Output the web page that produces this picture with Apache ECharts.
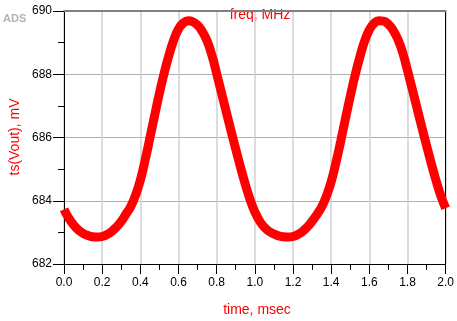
<!DOCTYPE html>
<html>
<head>
<meta charset="utf-8">
<script src="https://cdn.jsdelivr.net/npm/echarts@6/dist/echarts.min.js"></script>
<style>
html,body{margin:0;padding:0;background:#fff;}
#c{width:457px;height:321px;}
</style>
</head>
<body>
<div id="c"></div>
<script>
// time, msec
var timeMs = [
  0.000,0.025,0.050,0.075,0.100,0.125,0.150,0.175,0.200,0.225,
  0.250,0.275,0.300,0.325,0.350,0.375,0.400,0.425,0.450,0.475,
  0.500,0.525,0.550,0.575,0.600,0.625,0.650,0.675,0.700,0.725,
  0.750,0.775,0.800,0.825,0.850,0.875,0.900,0.925,0.950,0.975,
  1.000,1.025,1.050,1.075,1.100,1.125,1.150,1.175,1.200,1.225,
  1.250,1.275,1.300,1.325,1.350,1.375,1.400,1.425,1.450,1.475,
  1.500,1.525,1.550,1.575,1.600,1.625,1.650,1.675,1.700,1.725,
  1.750,1.775,1.800,1.825,1.850,1.875,1.900,1.925,1.950,1.975,2.000];
// ts(Vout), mV (center of the band)
var vout = [
  683.73,683.45,683.24,683.08,682.97,682.90,682.86,682.85,682.87,682.93,
  683.03,683.17,683.35,683.58,683.82,684.18,684.65,685.28,685.98,686.70,
  687.40,688.04,688.60,689.08,689.43,689.62,689.69,689.66,689.55,689.35,
  689.05,688.60,688.02,687.42,686.82,686.22,685.63,685.06,684.52,684.04,
  683.65,683.36,683.16,683.03,682.95,682.89,682.86,682.85,682.87,682.93,
  683.03,683.17,683.35,683.56,683.80,684.15,684.60,685.20,685.88,686.60,
  687.30,687.96,688.54,689.04,689.40,689.61,689.69,689.68,689.58,689.39,
  689.10,688.68,688.12,687.53,686.93,686.33,685.74,685.17,684.63,684.15,683.76];
var xTickLabels = ['0.0','0.2','0.4','0.6','0.8','1.0','1.2','1.4','1.6','1.8','2.0'];
var yTickLabels = ['682','684','686','688','690'];
var xName = 'time, msec';
var yName = 'ts(Vout), mV';
var topLabel = 'freq, MHz';
var logo = 'ADS';

var data = timeMs.map(function(t,i){return [t, vout[i]];});
var FONT = '"Liberation Sans", Arial, sans-serif';

var chart = echarts.init(document.getElementById('c'), null, {renderer:'canvas'});
chart.setOption({
  animation:false,
  backgroundColor:'#fff',
  grid:{left:64, right:9, top:11, bottom:57, containLabel:false},
  xAxis:[{
    type:'value', min:0, max:2, interval:0.2,
    axisLine:{show:true, onZero:false, lineStyle:{color:'#000', width:1}},
    axisTick:{show:true, inside:false, length:10, lineStyle:{color:'#000'}},
    minorTick:{show:true, splitNumber:2, length:6, lineStyle:{color:'#000'}},
    axisLabel:{margin:13, color:'#000', fontSize:12, fontFamily:FONT,
      formatter:function(v){var i=Math.round(v/0.2); return xTickLabels[i]!==undefined?xTickLabels[i]:'';}},
    splitLine:{show:true, lineStyle:{color:'#d0d0d0', width:1.5}}
  },{
    type:'value', min:0, max:2, position:'top',
    axisLine:{show:true, onZero:false, lineStyle:{color:'#808080', width:2}},
    axisTick:{show:false}, axisLabel:{show:false}, splitLine:{show:false}
  }],
  yAxis:[{
    type:'value', min:682, max:690, interval:2,
    axisLine:{show:true, onZero:false, lineStyle:{color:'#000', width:1}},
    axisTick:{show:true, inside:false, length:11, lineStyle:{color:'#000'}},
    minorTick:{show:true, splitNumber:2, length:6, lineStyle:{color:'#000'}},
    axisLabel:{margin:12, color:'#000', fontSize:12, fontFamily:FONT,
      formatter:function(v){var i=Math.round((v-682)/2); return yTickLabels[i]!==undefined?yTickLabels[i]:'';}},
    splitLine:{show:true, lineStyle:{color:'#b0b0b0', width:1}}
  },{
    type:'value', min:682, max:690, position:'right',
    axisLine:{show:true, onZero:false, lineStyle:{color:'#000', width:1}},
    axisTick:{show:false}, axisLabel:{show:false}, splitLine:{show:false}
  }],
  series:[{
    type:'line', xAxisIndex:0, yAxisIndex:0, data:data,
    smooth:0.5, showSymbol:false, symbol:'none',
    lineStyle:{color:'#ff0000', width:9}
  }],
  graphic:[
    {type:'text', left:3, top:13, style:{text:logo, fill:'#b4b4b4', font:'bold 11px '+FONT}},
    {type:'text', x:260, y:15, style:{text:topLabel, fill:'#ff0000', font:'14px '+FONT, align:'center', verticalAlign:'middle'}},
    {type:'text', x:257, y:310, style:{text:xName, fill:'#ff0000', font:'14px '+FONT, align:'center', verticalAlign:'middle'}},
    {type:'text', x:15, y:137, rotation:Math.PI/2, style:{text:yName, fill:'#ff0000', font:'14px '+FONT, align:'center', verticalAlign:'middle'}}
  ]
});
</script>
</body>
</html>
